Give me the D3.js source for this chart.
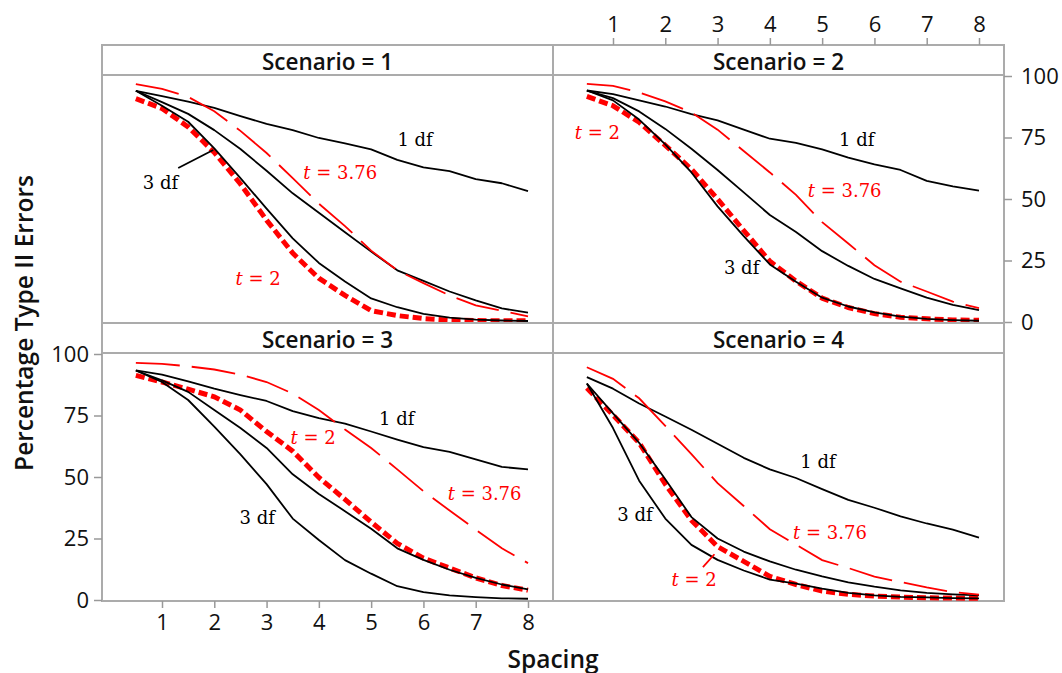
<!DOCTYPE html>
<html><head><meta charset="utf-8">
<script src="https://cdn.jsdelivr.net/npm/d3@7"></script>
<style>
body{margin:0;background:#fff;}
svg{display:block;}
</style></head><body>
<svg id="chart" width="1062" height="673"></svg>
<script>
// ---------- data ----------
const spacing = [0.5,1,1.5,2,2.5,3,3.5,4,4.5,5,5.5,6,6.5,7,7.5,8];
const xTicks = [1,2,3,4,5,6,7,8];
const yTicks = [0,25,50,75,100];
const scenarios = [1,2,3,4];

const sc1Df1  = [94.0,91.8,89.6,87.0,83.7,80.5,78.0,74.8,72.6,70.2,65.9,62.9,61.3,58.1,56.4,53.2];
const sc1Df2  = [94.0,89.4,84.6,78.0,70.3,61.5,52.3,44.4,36.5,28.6,21.0,16.7,12.4,8.8,5.5,3.8];
const sc1Df3  = [94.0,87.9,81.4,70.6,58.5,46.1,34.0,24.0,16.5,9.6,6.0,3.3,1.8,1.0,0.6,0.4];
const sc1T2   = [90.8,86.8,79.3,68.9,56.1,41.4,28.0,17.8,10.8,4.6,2.6,1.4,0.8,0.6,0.5,0.5];
const sc1T376 = [96.7,94.8,91.5,85.7,77.7,68.7,58.5,48.1,39.0,29.0,21.0,15.8,10.8,6.8,4.6,2.3];

const sc2Df1  = [94.1,92.6,90.1,87.6,84.5,82.0,78.2,74.5,72.8,70.2,66.8,64.1,61.8,57.4,55.1,53.4];
const sc2Df2  = [94.1,91.0,85.6,78.5,70.4,61.8,52.7,43.5,36.6,28.8,22.8,17.5,13.7,9.9,7.0,4.8];
const sc2Df3  = [94.1,90.1,82.3,72.2,60.8,47.0,34.9,23.4,16.4,9.9,6.3,3.9,2.2,1.3,0.8,0.5];
const sc2T2   = [91.7,87.9,81.2,71.8,62.1,50.0,37.2,24.7,16.6,9.7,5.9,3.4,1.9,1.3,0.8,0.7];
const sc2T376 = [96.8,96.0,93.3,89.7,85.2,78.2,69.5,60.8,51.7,40.6,31.9,23.1,16.4,12.4,8.3,5.6];

const sc3Df1  = [93.3,91.6,88.9,85.9,83.3,80.9,76.8,73.9,71.7,68.5,65.2,62.1,60.2,57.2,54.1,53.1];
const sc3Df2  = [93.3,89.3,84.6,77.2,69.9,61.8,51.1,43.1,36.1,29.0,21.0,16.3,12.3,9.0,6.3,4.3];
const sc3Df3  = [93.3,88.6,81.3,70.5,59.2,47.1,33.1,24.4,16.2,10.7,5.6,3.2,1.9,1.2,0.7,0.5];
const sc3T2   = [91.3,88.6,85.7,82.6,77.2,68.5,60.5,49.8,40.9,31.7,23.0,17.0,13.0,9.0,5.9,4.0];
const sc3T376 = [96.4,96.0,95.0,93.7,91.6,88.6,83.9,77.2,69.3,61.8,53.1,44.2,36.4,28.6,21.0,15.0];

const sc4Df1  = [90.6,85.9,79.9,74.6,69.2,63.5,57.8,53.1,49.6,45.1,40.7,37.5,34.0,31.1,28.6,25.4];
const sc4Df2  = [88.0,75.9,63.9,49.1,33.7,25.0,19.7,15.7,12.3,9.6,7.2,5.4,3.9,2.9,2.3,1.9];
const sc4Df3  = [88.0,69.9,48.5,33.1,22.4,16.3,12.0,8.3,6.7,4.6,2.9,1.9,1.3,1.1,0.8,0.7];
const sc4T2   = [86.2,75.2,63.9,47.1,32.4,21.7,15.7,9.6,6.3,3.6,2.3,1.6,1.2,0.9,0.8,0.7];
const sc4T376 = [94.6,89.9,82.0,70.8,59.3,47.5,38.2,28.8,22.5,16.2,13.0,9.5,7.3,5.1,3.2,2.2];

// annotation labels (data coordinates: spacing, percentage)
const sc1Labels = [
  {t:"1 df", x:5.84, y:74.0, red:false},
  {t:"3.76", x:4.41, y:61.0, red:true},
  {t:"3 df", x:0.97, y:56.9, red:false},
  {t:"2",    x:2.84, y:17.9, red:true}
];
const sc2Labels = [
  {t:"2",    x:0.70, y:77.2, red:true},
  {t:"1 df", x:5.66, y:74.0, red:false},
  {t:"3.76", x:5.43, y:53.7, red:true},
  {t:"3 df", x:3.46, y:22.0, red:false}
];
const sc3Labels = [
  {t:"2",    x:3.89, y:66.4, red:true},
  {t:"3 df", x:2.82, y:33.6, red:false},
  {t:"1 df", x:5.49, y:73.7, red:false},
  {t:"3.76", x:7.17, y:43.3, red:true}
];
const sc4Labels = [
  {t:"3 df", x:1.42, y:34.8, red:false},
  {t:"2",    x:2.55, y:8.5,  red:true},
  {t:"1 df", x:4.92, y:56.3, red:false},
  {t:"3.76", x:5.15, y:27.5, red:true}
];
const sc1Leader = [[1.31,62.6],[1.98,69.9]];
const sc4Leader = [[2.72,13.4],[2.94,18.6]];

// ---------- build tables ----------
const panelSeries = [
  {df1:sc1Df1, df2:sc1Df2, df3:sc1Df3, t2:sc1T2, t376:sc1T376, labels:sc1Labels, leader:sc1Leader, leaderRed:false},
  {df1:sc2Df1, df2:sc2Df2, df3:sc2Df3, t2:sc2T2, t376:sc2T376, labels:sc2Labels, leader:null},
  {df1:sc3Df1, df2:sc3Df2, df3:sc3Df3, t2:sc3T2, t376:sc3T376, labels:sc3Labels, leader:null},
  {df1:sc4Df1, df2:sc4Df2, df3:sc4Df3, t2:sc4T2, t376:sc4T376, labels:sc4Labels, leader:sc4Leader, leaderRed:true}
];

// ---------- layout ----------
const svg = d3.select("#chart");
const colX = [102, 553];
const panelW = 451;
const top0 = 45, headerH = 30, plotH = 248;
const rowY = [top0, top0 + headerH + plotH];
const gray = "#ababab";
const RED = "#ff0000";
const sansFont = "'Open Sans', 'Noto Sans', sans-serif";
const serifFont = "'DejaVu Serif', serif";

const x = d3.scaleLinear().domain([1, 8]).range([60, 426]);
const y = d3.scaleLinear().domain([0, 100]).range([plotH - 1, 1]);

const line = d3.line().x((d, i) => x(spacing[i])).y(d => y(d));

scenarios.forEach((sc, idx) => {
  const col = idx % 2, row = Math.floor(idx / 2);
  const gx = colX[col], gy = rowY[row];
  const S = panelSeries[idx];
  const g = svg.append("g").attr("transform", `translate(${gx},${gy})`);

  // header
  g.append("rect").attr("x", 0).attr("y", 0).attr("width", panelW).attr("height", headerH)
    .attr("fill", "#fff").attr("stroke", gray).attr("stroke-width", 2);
  g.append("text").attr("x", panelW / 2).attr("y", headerH / 2 + 1)
    .attr("text-anchor", "middle").attr("dominant-baseline", "central")
    .attr("font-family", sansFont).attr("font-weight", 600).attr("font-size", 22.5)
    .attr("fill", "#111").text(`Scenario = ${sc}`);

  const p = g.append("g").attr("transform", `translate(0,${headerH})`);
  p.append("rect").attr("x", 0).attr("y", 0).attr("width", panelW).attr("height", plotH)
    .attr("fill", "#fff").attr("stroke", gray).attr("stroke-width", 2);

  // lines
  p.append("path").datum(S.t2).attr("d", line).attr("fill", "none")
    .attr("stroke", RED).attr("stroke-width", 5).attr("stroke-dasharray", "9,4");
  [S.df1, S.df2, S.df3].forEach(arr => {
    p.append("path").datum(arr).attr("d", line).attr("fill", "none")
      .attr("stroke", "#000").attr("stroke-width", 1.8).attr("stroke-linejoin", "round");
  });
  p.append("path").datum(S.t376).attr("d", line).attr("fill", "none")
    .attr("stroke", RED).attr("stroke-width", 1.8).attr("stroke-dasharray", "44,12");

  // leader
  if (S.leader) {
    p.append("line")
      .attr("x1", x(S.leader[0][0])).attr("y1", y(S.leader[0][1]))
      .attr("x2", x(S.leader[1][0])).attr("y2", y(S.leader[1][1]))
      .attr("stroke", S.leaderRed ? RED : "#000").attr("stroke-width", 1.8);
  }

  // labels
  S.labels.forEach(l => {
    const t = p.append("text").attr("x", x(l.x)).attr("y", y(l.y))
      .attr("text-anchor", "middle").attr("dominant-baseline", "central")
      .attr("font-family", serifFont).attr("font-size", 18)
      .attr("fill", l.red ? RED : "#000");
    if (l.red) {
      t.append("tspan").attr("font-style", "italic").text("t");
      t.append("tspan").text(" = " + l.t);
    } else {
      t.text(l.t);
    }
  });

  // axes
  const styleAxis = (a) => {
    a.select(".domain").remove();
    a.selectAll(".tick line").attr("stroke", "#999").attr("stroke-width", 1.5);
    a.selectAll(".tick text").attr("font-family", sansFont).attr("font-size", 22).attr("fill", "#111");
  };
  if (idx === 1) {
    const at = g.append("g").call(d3.axisTop(x).tickValues(xTicks).tickSize(7).tickPadding(6).tickFormat(d3.format("d")));
    styleAxis(at);
    const ar = p.append("g").attr("transform", `translate(${panelW},0)`)
      .call(d3.axisRight(y).tickValues(yTicks).tickSize(8).tickPadding(9));
    styleAxis(ar);
  }
  if (idx === 2) {
    const al = p.append("g").call(d3.axisLeft(y).tickValues(yTicks).tickSize(8).tickPadding(5));
    styleAxis(al);
    const ab = p.append("g").attr("transform", `translate(0,${plotH})`)
      .call(d3.axisBottom(x).tickValues(xTicks).tickSize(7).tickPadding(6).tickFormat(d3.format("d")));
    styleAxis(ab);
  }
});

// axis titles
svg.append("text").attr("transform", `translate(23,${rowY[1]}) rotate(-90)`)
  .attr("text-anchor", "middle").attr("dominant-baseline", "central")
  .attr("font-family", sansFont).attr("font-weight", 600).attr("font-size", 24.5)
  .attr("fill", "#111").text("Percentage Type II Errors");
svg.append("text").attr("x", colX[1]).attr("y", 658)
  .attr("text-anchor", "middle").attr("dominant-baseline", "central")
  .attr("font-family", sansFont).attr("font-weight", 600).attr("font-size", 24.5)
  .attr("fill", "#111").text("Spacing");
</script>
</body></html>
